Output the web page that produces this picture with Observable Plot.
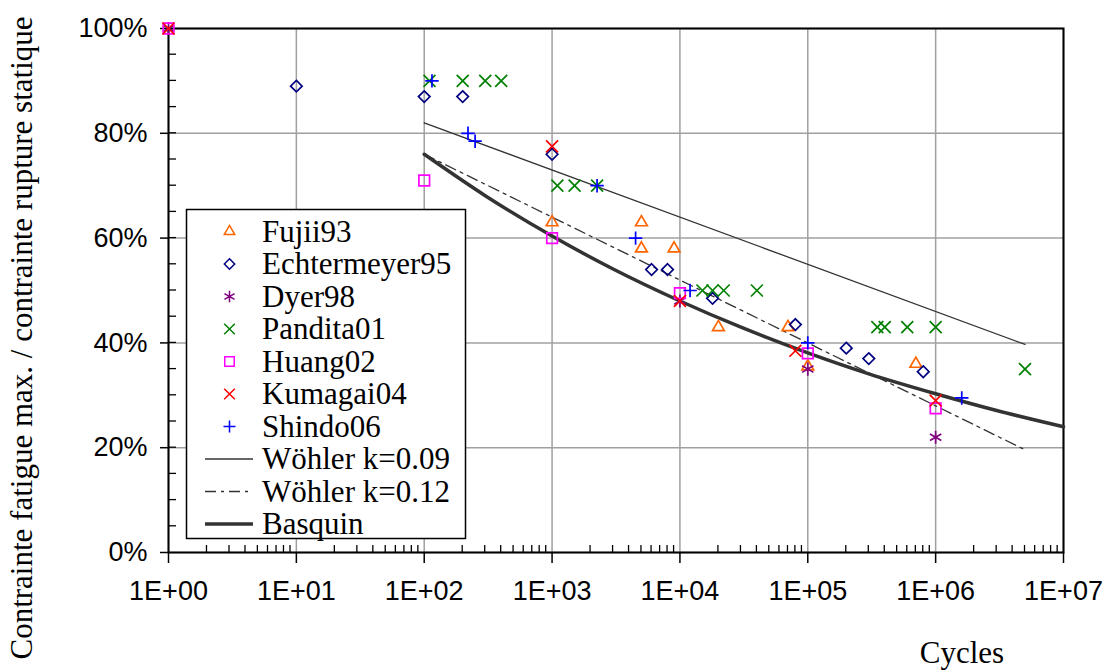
<!DOCTYPE html>
<html>
<head>
<meta charset="utf-8">
<script src="https://cdn.jsdelivr.net/npm/d3@7"></script>
<script src="https://cdn.jsdelivr.net/npm/@observablehq/plot@0.6"></script>
<style>
  html, body { margin: 0; padding: 0; background: #fff; }
  #chart { width: 1107px; height: 672px; }
</style>
</head>
<body>
<div id="chart"></div>
<script>
// ---------- data ----------
const xTicks = [1, 10, 100, 1e3, 1e4, 1e5, 1e6, 1e7];
const xTickLabels = ["1E+00", "1E+01", "1E+02", "1E+03", "1E+04", "1E+05", "1E+06", "1E+07"];
const yTicks = [0, 0.2, 0.4, 0.6, 0.8, 1.0];
const yTickLabels = ["0%", "20%", "40%", "60%", "80%", "100%"];
const yMinorTicks = [0.05,0.1,0.15,0.2,0.25,0.3,0.35,0.4,0.45,0.5,0.55,0.6,0.65,0.7,0.75,0.8,0.85,0.9,0.95];

const fujiiN = [1000, 5000, 5000, 9000, 20000, 70000, 100000, 700000];
const fujiiS = [0.63, 0.63, 0.58, 0.58, 0.43, 0.43, 0.355, 0.36];

const echterN = [10, 100, 200, 1000, 6000, 8000, 18000, 80000, 200000, 300000, 800000];
const echterS = [0.89, 0.87, 0.87, 0.76, 0.54, 0.54, 0.485, 0.435, 0.39, 0.37, 0.345];

const dyerN = [1, 10000, 100000, 1000000];
const dyerS = [1.0, 0.48, 0.35, 0.22];

const panditaN = [110, 200, 300, 400, 1100, 1500, 2250, 15000, 18000, 22000, 40000, 350000, 400000, 600000, 1000000, 5000000];
const panditaS = [0.90, 0.90, 0.90, 0.90, 0.70, 0.70, 0.70, 0.50, 0.50, 0.50, 0.50, 0.43, 0.43, 0.43, 0.43, 0.35];

const huangN = [1, 100, 1000, 10000, 100000, 1000000];
const huangS = [1.0, 0.71, 0.60, 0.495, 0.38, 0.275];

const kumagaiN = [1, 1000, 10000, 80000, 1000000];
const kumagaiS = [1.0, 0.775, 0.48, 0.385, 0.29];

const shindoN = [115, 220, 250, 2250, 4500, 12000, 100000, 1600000];
const shindoS = [0.90, 0.80, 0.785, 0.70, 0.60, 0.50, 0.40, 0.295];

const wohler09N = [100, 5000000];
const wohler09S = [0.82, 0.397];
const wohler12N = [100, 5000000];
const wohler12S = [0.76, 0.196];
const basquinN = [100, 300, 1000, 3000, 10000, 30000, 100000, 300000, 1000000, 3000000, 10000000];
const basquinS = [0.76, 0.681, 0.604, 0.541, 0.48, 0.43, 0.381, 0.341, 0.303, 0.271, 0.24];

const seriesNames = ["Fujii93", "Echtermeyer95", "Dyer98", "Pandita01", "Huang02", "Kumagai04", "Shindo06"];
const lineNames = ["Wöhler k=0.09", "Wöhler k=0.12", "Basquin"];
const yTitle = "Contrainte fatigue max. / contrainte rupture statique";
const xTitle = "Cycles";

// ---------- build ----------
const zip = (N, S) => N.map((n, i) => ({N: n, S: S[i]}));

const xMinor = [];
for (let k = 0; k < 7; k++) for (let m = 2; m <= 9; m++) xMinor.push(m * Math.pow(10, k));

const series = [
  {name: seriesNames[0], data: zip(fujiiN, fujiiS), symbol: d3.symbolTriangle2, color: "#ff6600", r: 5.6},
  {name: seriesNames[1], data: zip(echterN, echterS), symbol: d3.symbolDiamond2, color: "#000080", r: 5.2},
  {name: seriesNames[2], data: zip(dyerN, dyerS), symbol: d3.symbolAsterisk, color: "#800080", r: 6.2},
  {name: seriesNames[3], data: zip(panditaN, panditaS), symbol: d3.symbolTimes, color: "#008000", r: 5.5},
  {name: seriesNames[4], data: zip(huangN, huangS), symbol: d3.symbolSquare, color: "#ff00ff", r: 6.0},
  {name: seriesNames[5], data: zip(kumagaiN, kumagaiS), symbol: d3.symbolTimes, color: "#ff0000", r: 5.5},
  {name: seriesNames[6], data: zip(shindoN, shindoS), symbol: d3.symbolPlus, color: "#0000ff", r: 4.4}
];
const lines = [
  {name: lineNames[0], data: zip(wohler09N, wohler09S), width: 1.3, dash: null, curve: "linear"},
  {name: lineNames[1], data: zip(wohler12N, wohler12S), width: 1.3, dash: "11,5,3,5", curve: "linear"},
  {name: lineNames[2], data: zip(basquinN, basquinS), width: 3.5, dash: null, curve: "monotone-x"}
];

const gridColor = "#a0a0a0";
const sans = "'Liberation Sans', Arial, sans-serif";
const serif = "'Liberation Serif', 'Times New Roman', serif";

const chart = Plot.plot({
  width: 1107,
  height: 672,
  marginLeft: 168,
  marginRight: 44,
  marginTop: 28,
  marginBottom: 120,
  style: {background: "white", fontFamily: sans, fontSize: "27px", color: "black"},
  x: {type: "log", domain: [1, 1e7], label: null},
  y: {domain: [0, 1], label: null},
  marks: [
    Plot.ruleX(xTicks, {stroke: gridColor, strokeWidth: 1.5}),
    Plot.ruleY(yTicks, {stroke: gridColor, strokeWidth: 1.5}),
    Plot.axisX({ticks: xTicks, tickSize: 11, tickPadding: 17, label: null, strokeWidth: 1.5,
      tickFormat: d => xTickLabels[Math.round(Math.log10(d))], fontSize: 27, fontFamily: sans}),
    Plot.axisY({ticks: yTicks, tickSize: 8, tickPadding: 13, label: null, strokeWidth: 1.5,
      tickFormat: d => yTickLabels[Math.round(d * 5)], fontSize: 27, fontFamily: sans}),
    Plot.frame({stroke: "black", strokeWidth: 2}),
    ...lines.map(l => Plot.line(l.data, {x: "N", y: "S", stroke: "#333333", strokeWidth: l.width,
      strokeDasharray: l.dash, curve: l.curve})),
    ...series.map(s => Plot.dot(s.data, {x: "N", y: "S", symbol: s.symbol, r: s.r, stroke: s.color,
      fill: "none", strokeWidth: 1.7}))
  ]
});

document.getElementById("chart").appendChild(chart);

const svg = d3.select(chart);

// ---------- inward minor ticks, positioned with the plot's own scales ----------
const xs = chart.scale("x"), ys = chart.scale("y");
const xPos = v => xs.apply ? xs.apply(v) : Plot.scale({x: xs}).apply(v);
const yPos = v => ys.apply ? ys.apply(v) : Plot.scale({y: ys}).apply(v);
const xBase = yPos(0), yBase = xPos(1);
const tg = svg.append("g").attr("stroke", "black").attr("stroke-width", 1.3);
xMinor.forEach(v => {
  const px = xPos(v);
  tg.append("line").attr("x1", px).attr("x2", px).attr("y1", xBase).attr("y2", xBase - 7);
});
yMinorTicks.forEach(v => {
  const py = yPos(v);
  tg.append("line").attr("x1", yBase).attr("x2", yBase + 8).attr("y1", py).attr("y2", py);
});

// ---------- legend and titles ----------
const lg = svg.append("g").attr("class", "legend").attr("text-anchor", "start");
lg.append("rect").attr("x", 186.5).attr("y", 209.5).attr("width", 279).attr("height", 329)
  .attr("fill", "white").attr("stroke", "black").attr("stroke-width", 1.5);
const rowY0 = 231.5, rowStep = 32.5, markX = 229.5, textX = 262;
series.forEach((s, i) => {
  const cy = rowY0 + i * rowStep;
  lg.append("path").attr("d", d3.symbol(s.symbol, s.r * s.r * Math.PI * 0.8)())
    .attr("transform", `translate(${markX},${cy})`)
    .attr("fill", "none").attr("stroke", s.color).attr("stroke-width", 1.5);
  lg.append("text").attr("x", textX).attr("y", cy + 10).text(s.name)
    .attr("text-anchor", "start")
    .attr("font-family", serif).attr("font-size", 31).attr("fill", "black");
});
lines.forEach((l, j) => {
  const cy = rowY0 + (series.length + j) * rowStep;
  lg.append("line").attr("x1", 205).attr("x2", 253).attr("y1", cy).attr("y2", cy)
    .attr("stroke", "#333333").attr("stroke-width", l.width).attr("stroke-dasharray", l.dash);
  lg.append("text").attr("x", textX).attr("y", cy + 10).text(l.name)
    .attr("text-anchor", "start")
    .attr("font-family", serif).attr("font-size", 31).attr("fill", "black");
});

svg.append("text").text(yTitle)
  .attr("transform", "translate(32,338) rotate(-90)")
  .attr("text-anchor", "middle").attr("font-family", serif).attr("font-size", 31).attr("fill", "black");
svg.append("text").text(xTitle)
  .attr("x", 962).attr("y", 663)
  .attr("text-anchor", "middle").attr("font-family", serif).attr("font-size", 31).attr("fill", "black");
</script>
</body>
</html>
